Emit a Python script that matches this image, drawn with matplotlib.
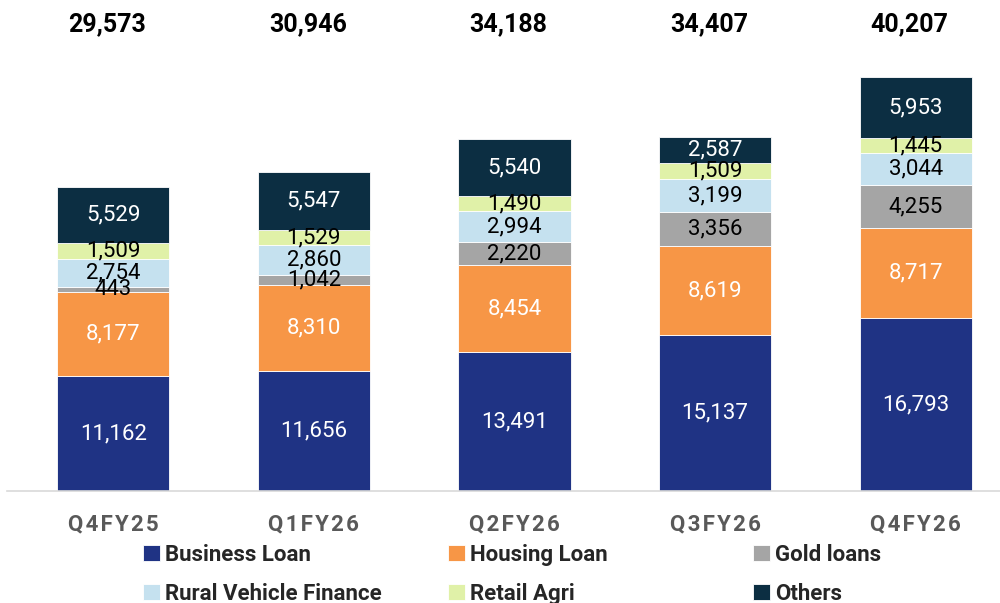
import matplotlib.pyplot as plt
import numpy as np

# dados do gráfico
trimestres = ['Q4FY25', 'Q1FY26', 'Q2FY26', 'Q3FY26', 'Q4FY26']
totais = [29573, 30946, 34188, 34407, 40207]
business_loan = [11162, 11656, 13491, 15137, 16793]
housing_loan = [8177, 8310, 8454, 8619, 8717]
gold_loans = [443, 1042, 2220, 3356, 4255]
rural_vehicle = [2754, 2860, 2994, 3199, 3044]
retail_agri = [1509, 1529, 1490, 1509, 1445]
others = [5529, 5547, 5540, 2587, 5953]

series = [
    ('Business Loan', business_loan, '#1F3384', 'white'),
    ('Housing Loan', housing_loan, '#F79646', 'white'),
    ('Gold loans', gold_loans, '#A5A5A5', 'black'),
    ('Rural Vehicle Finance', rural_vehicle, '#C5E1EF', 'black'),
    ('Retail Agri', retail_agri, '#E0F1A8', 'black'),
    ('Others', others, '#0C2E42', 'white'),
]

plt.rcParams['font.family'] = ['Roboto', 'DejaVu Sans']

fig = plt.figure(figsize=(10, 6.03), dpi=100)
ax = fig.add_axes([0.007, 112 / 603, 0.993, 491 / 603])

x = np.arange(len(trimestres))
base = np.zeros(len(trimestres))
handles = []
for nome, vals, cor, cor_txt in series:
    vals = np.array(vals)
    b = ax.bar(x, vals, 0.56, bottom=base, color=cor, edgecolor='white',
               linewidth=0.6, label=nome)
    handles.append(b)
    for xi, v, bo in zip(x, vals, base):
        ax.text(xi, bo + v / 2, f'{v:,}', ha='center', va='center',
                fontsize=16, color=cor_txt)
    base = base + vals

for xi, t in zip(x, totais):
    ax.text(xi - 0.03, 0.95, f'{t:,}', transform=ax.get_xaxis_transform(),
            ha='center', va='center', fontsize=18, fontweight='bold', color='black')

ax.set_xlim(-0.53, 4.42)
ax.set_ylim(0, 47700)
ax.set_yticks([])
ax.set_xticks(x)
ax.set_xticklabels(['\u200a'.join(t) for t in trimestres], fontsize=16,
                   fontweight='bold', color='#595959')
ax.tick_params(axis='x', length=0, pad=16)
for s in ['top', 'right', 'left']:
    ax.spines[s].set_visible(False)
ax.spines['bottom'].set_color('#D9D9D9')
ax.spines['bottom'].set_linewidth(1.2)

# legenda: 3 colunas de largura igual (uma legenda por coluna)
colunas = [(0, 3), (1, 4), (2, 5)]
pos_x = [0.123, 0.428, 0.733]
for (i, j), px in zip(colunas, pos_x):
    fig.legend(handles=[handles[i], handles[j]], labels=[series[i][0], series[j][0]],
               loc='lower left', bbox_to_anchor=(px, -0.036),
               ncol=1, frameon=False, prop={'weight': 'bold', 'size': 16},
               labelcolor='#262626', handlelength=0.75, handleheight=0.75,
               handletextpad=0.25, labelspacing=0.75, borderaxespad=0.5)

fig.savefig('out.png', dpi=100)
